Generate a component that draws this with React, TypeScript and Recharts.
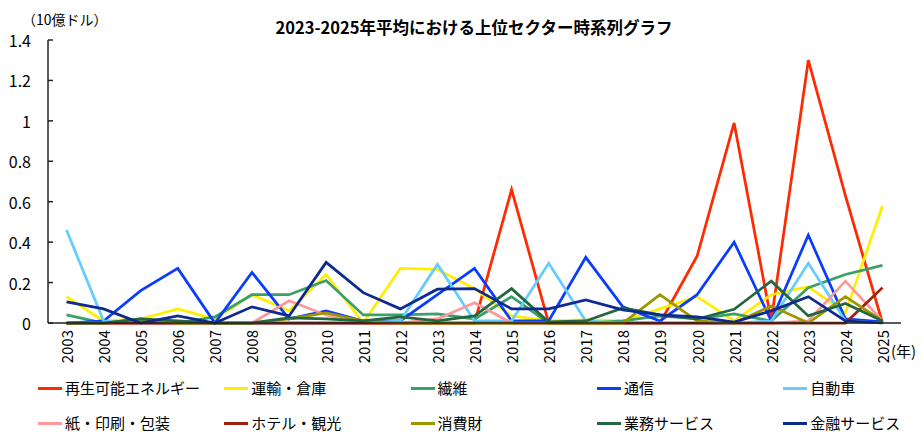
import * as React from "react";
import { LineChart, Line, XAxis, YAxis } from "recharts";

// categories
const years = [
  "2003", "2004", "2005", "2006", "2007", "2008", "2009", "2010", "2011", "2012", "2013", "2014",
  "2015", "2016", "2017", "2018", "2019", "2020", "2021", "2022", "2023", "2024", "2025",
];

// series values (10億ドル)
const renewable = [0, 0, 0, 0, 0, 0, 0, 0, 0, 0, 0, 0, 0.66, 0, 0, 0, 0, 0.33, 0.99, 0.01, 1.3, 0.63, 0];
const transport = [0.13, 0.01, 0.02, 0.07, 0.02, 0.14, 0.06, 0.24, 0, 0.27, 0.265, 0.17, 0.035, 0.01, 0.015, 0.01, 0.07, 0.13, 0.01, 0.14, 0.18, 0.05, 0.58];
const textile = [0.04, 0, 0.01, 0, 0.03, 0.14, 0.14, 0.21, 0.04, 0.04, 0.045, 0.02, 0.13, 0, 0, 0.01, 0.035, 0.02, 0.045, 0.01, 0.175, 0.24, 0.285];
const telecom = [0, 0.01, 0.16, 0.27, 0, 0.25, 0.02, 0.06, 0.01, 0.01, 0.14, 0.27, 0.01, 0.01, 0.325, 0.08, 0.01, 0.14, 0.4, 0.01, 0.435, 0.02, 0.005];
const auto = [0.46, 0.01, 0, 0, 0, 0, 0, 0, 0, 0.01, 0.29, 0.01, 0.01, 0.295, 0.01, 0, 0, 0, 0, 0.01, 0.295, 0.01, 0];
const paper = [0, 0, 0, 0, 0, 0, 0.11, 0.04, 0, 0, 0.02, 0.1, 0, 0, 0, 0, 0, 0, 0, 0, 0.01, 0.207, 0.01];
const hotel = [0, 0, 0, 0, 0, 0, 0, 0, 0, 0, 0, 0, 0, 0, 0, 0, 0, 0, 0, 0, 0, 0, 0.175];
const consumer = [0, 0, 0.02, 0, 0, 0, 0.02, 0.05, 0.01, 0, 0, 0, 0, 0, 0, 0, 0.14, 0.01, 0, 0.084, 0, 0.13, 0.01];
const business = [0, 0, 0.02, 0.01, 0, 0, 0.025, 0.02, 0.01, 0.03, 0.01, 0.035, 0.17, 0.005, 0.01, 0.075, 0.04, 0.02, 0.068, 0.207, 0.035, 0.097, 0.01];
const finance = [0.105, 0.07, 0, 0.035, 0, 0.08, 0.035, 0.3, 0.15, 0.07, 0.167, 0.17, 0.07, 0.07, 0.114, 0.065, 0.04, 0.03, 0.005, 0.06, 0.13, 0.01, 0];

const seriesNames = [
  "再生可能エネルギー", "運輸・倉庫", "繊維", "通信", "自動車",
  "紙・印刷・包装", "ホテル・観光", "消費財", "業務サービス", "金融サービス",
];
const seriesValues = [renewable, transport, textile, telecom, auto, paper, hotel, consumer, business, finance];
const seriesColors = [
  "#ff2a00", "#ffee00", "#3a9f68", "#0a3cff", "#66ccff",
  "#ff9999", "#a0200a", "#9c9600", "#236640", "#0d2a90",
];

const yTicks = [0, 0.2, 0.4, 0.6, 0.8, 1, 1.2, 1.4];

const data = years.map((year, i) => {
  const row: Record<string, any> = { year };
  seriesValues.forEach((vals, s) => {
    row["s" + s] = vals[i];
  });
  return row;
});

const FONT = '"Noto Sans CJK JP", "Noto Sans", sans-serif';

const XTick = ({ x, y, payload }: any) => (
  <text
    x={x}
    y={y}
    transform={`rotate(-90 ${x} ${y})`}
    textAnchor="end"
    dominantBaseline="central"
    fontSize={15}
    fontFamily={FONT}
    fill="#000"
  >
    {payload.value}
  </text>
);

const YTick = ({ x, y, payload }: any) => (
  <g>
    <line x1={x + 17} x2={x + 22} y1={y} y2={y} stroke="#222" strokeWidth={1.5} />
    <text
      x={x}
      y={y}
      textAnchor="end"
      dominantBaseline="central"
      fontSize={16}
      fontFamily={FONT}
      fill="#000"
    >
      {String(Math.round(payload.value * 10) / 10)}
    </text>
  </g>
);

export default function App() {
  return (
    <div style={{ position: "relative", width: 923, height: 432, background: "#fff", fontFamily: FONT, overflow: "hidden" }}>
      <style>{`body{margin:0}`}</style>
      <LineChart
        width={923}
        height={432}
        data={data}
        margin={{ top: 40, right: 22, bottom: 0, left: 0 }}
      >
        <XAxis
          dataKey="year"
          height={109}
          padding={{ left: 18.5, right: 18.5 }}
          tick={<XTick />}
          tickLine={false}
          tickSize={0}
          tickMargin={7}
          interval={0}
          axisLine={{ stroke: "#222", strokeWidth: 1.5 }}
        />
        <XAxis
          xAxisId="top"
          dataKey="year"
          orientation="top"
          height={0}
          padding={{ left: 18.5, right: 18.5 }}
          tick={false}
          tickLine={false}
          axisLine={{ stroke: "#999", strokeWidth: 1.5 }}
        />
        <YAxis
          width={48}
          domain={[0, 1.4]}
          ticks={yTicks}
          tick={<YTick />}
          tickLine={false}
          tickSize={0}
          tickMargin={17}
          axisLine={{ stroke: "#222", strokeWidth: 1.5 }}
        />
        <YAxis
          yAxisId="r"
          orientation="right"
          width={0}
          domain={[0, 1.4]}
          tick={false}
          tickLine={false}
          axisLine={{ stroke: "#222", strokeWidth: 1.5 }}
        />
        {seriesNames.map((name, s) => (
          <Line
            key={name}
            name={name}
            dataKey={"s" + s}
            stroke={seriesColors[s]}
            strokeWidth={2.75}
            dot={false}
            activeDot={false}
            isAnimationActive={false}
          />
        ))}
      </LineChart>

      <div
        style={{
          position: "absolute", left: 0, top: 15, width: 948, textAlign: "center",
          fontSize: 16.5, fontWeight: 700, lineHeight: "24px",
        }}
      >
        2023-2025年平均における上位セクター時系列グラフ
      </div>
      <div style={{ position: "absolute", left: 22, top: 8, fontSize: 14, lineHeight: "22px" }}>
        （10億ドル）
      </div>
      <div style={{ position: "absolute", left: 891, top: 340, fontSize: 15, lineHeight: "22px" }}>
        (年)
      </div>

      {seriesNames.map((name, s) => (
        <div
          key={name}
          style={{
            position: "absolute",
            left: 38 + (s % 5) * 186.3,
            top: s < 5 ? 379 : 414,
            display: "flex",
            alignItems: "center",
            height: 18,
            lineHeight: "18px",
            fontSize: 15,
          }}
        >
          <span style={{ display: "inline-block", width: 24, height: 3, background: seriesColors[s], marginRight: 3 }} />
          <span>{name}</span>
        </div>
      ))}
    </div>
  );
}
